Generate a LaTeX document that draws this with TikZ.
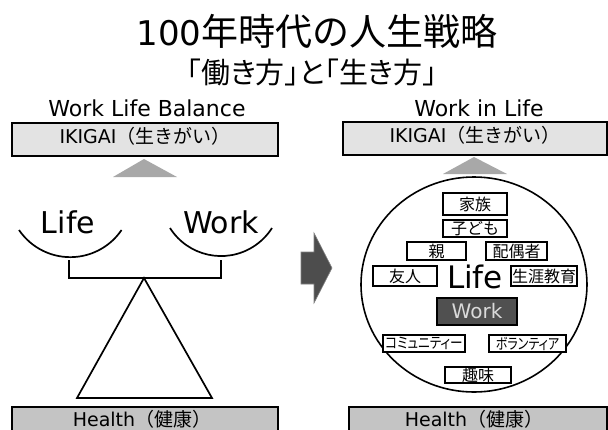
\documentclass[tikz,border=0pt]{standalone}
\usepackage{fontspec}
\setmainfont{DejaVu Sans}
\newfontfamily\jp{Noto Sans CJK JP}
\newfontfamily\jpp[RawFeature=+palt]{Noto Sans CJK JP}
\newcommand\fsz[1]{\fontsize{#1pt}{#1pt}\selectfont}
\definecolor{ikigaigray}{HTML}{E3E3E3}
\definecolor{healthgray}{HTML}{C4C4C4}
\definecolor{trigray}{HTML}{A8A8A8}
\definecolor{darkbox}{HTML}{505050}
\definecolor{arrowdark}{HTML}{4D4D4D}
\definecolor{worktext}{HTML}{DADADA}
\begin{document}
\begin{tikzpicture}[x=1pt,y=-1pt,
  bigbox/.style={draw=black,line width=1.8pt},
  lbl/.style={draw=black,line width=1.1pt,fill=white,inner sep=0pt},
  kj/.style={font=\jp\fsz{16}},
  kana/.style={font=\jpp\fsz{15}},
  plain/.style={inner sep=0pt},
  bline/.style={line width=1.7pt,line join=miter}]
\useasboundingbox (0,0) rectangle (608,429);
\clip (0,0) rectangle (608,429);
\fill[white] (0,0) rectangle (608,429);

% titles
\node[plain,anchor=base] (title) at (317,45) {\fsz{34}100{\jp\fsz{37}年時代の人生戦略}};
\node[plain,anchor=base] (subtitle) at (312,83) {\jpp\fsz{29}「働き方」と「生き方」};
\node[plain,anchor=base] (wlb) at (147,116) {\fsz{22}Work Life Balance};
\node[plain,anchor=base] (wil) at (479,116) {\fsz{22}Work in Life};

% ---------- left panel ----------
\draw[bigbox,fill=ikigaigray] (12,123) rectangle (278,156);
\node[plain,anchor=base] (ikL) at (145,143) {\fsz{19}IKIGAI{\jp（生きがい）}};
\fill[trigray] (113,177) -- (144,159) -- (177,177) -- cycle;

\node[plain,anchor=base] (lifeL) at (68,233) {\fsz{30}Life};
\node[plain,anchor=base] (workL) at (221,233) {\fsz{30}Work};
\draw[bline] (19,230) arc[start angle=145.8, end angle=34.2, radius=62];
\draw[bline] (170,228) arc[start angle=147.6, end angle=32.4, radius=60.4];
\draw[bline] (69,260) -- (69,278) -- (221,278) -- (221,260);
\draw[bline] (144,278) -- (212,398) -- (77,398) -- cycle;

\draw[bigbox,fill=healthgray] (12,407) rectangle (278,445);
\node[plain,anchor=base] (hL) at (142,426) {\fsz{19}Health{\jp（健康）}};

% arrow
\draw[fill=arrowdark,draw=gray,line width=0.6pt] (301,252) -- (314,252) -- (314,233) -- (332,268) -- (314,303) -- (314,284) -- (301,284) -- cycle;

% ---------- right panel ----------
\draw[bigbox,fill=ikigaigray] (343,122) rectangle (607,155);
\node[plain,anchor=base] (ikR) at (475,142) {\fsz{19}IKIGAI{\jp（生きがい）}};
\fill[trigray] (443,174) -- (474,157) -- (507,174) -- cycle;

\draw[line width=1.6pt] (474,284.5) ellipse [x radius=113, y radius=107.5];

\node[lbl,kj,minimum width=64,minimum height=22] (kazoku) at (475,204) {家族};
\node[lbl,kj,minimum width=64,minimum height=17] (kodomo) at (475,228.5) {子ども};
\node[lbl,kj,minimum width=59,minimum height=18] (oya) at (436.5,251) {親};
\node[lbl,kj,minimum width=61,minimum height=18] (haigusha) at (516.5,251) {配偶者};
\node[lbl,kj,minimum width=64,minimum height=20] (yujin) at (405,276) {友人};
\node[lbl,kj,minimum width=66,minimum height=20] (shogai) at (544,276) {生涯教育};
\node[plain,anchor=base] (lifeR) at (475,288) {\fsz{31}Life};
\node[draw=black,line width=1.1pt,fill=darkbox,text=worktext,inner sep=0pt,minimum width=80,minimum height=27,font=\fsz{20}] (workR) at (477,311.5) {Work};
\node[lbl,kana,minimum width=82,minimum height=17] (comm) at (424,343.5) {\scalebox{0.84}[1]{コミュニティー}};
\node[lbl,kana,minimum width=77,minimum height=17] (vol) at (527.5,343.5) {\scalebox{0.8}[1]{ボランティア}};
\node[lbl,kj,minimum width=66,minimum height=16] (shumi) at (478,375) {趣味};

\draw[bigbox,fill=healthgray] (349,407) rectangle (607,445);
\node[plain,anchor=base] (hR) at (474,426) {\fsz{19}Health{\jp（健康）}};
\end{tikzpicture}
\end{document}
